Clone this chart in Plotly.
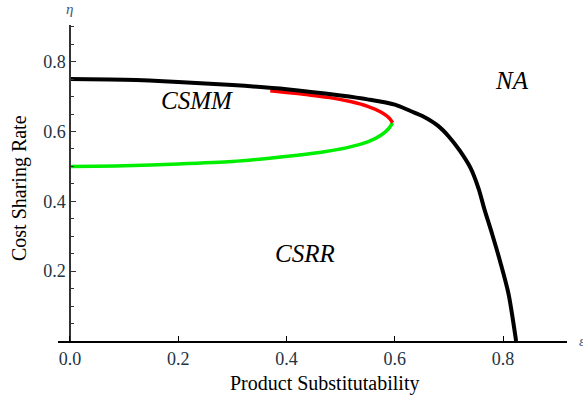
import plotly.graph_objects as go

# Boundary curves (epsilon = product substitutability, eta = cost sharing rate)
black_eps = [0.0, 0.1, 0.2, 0.3, 0.4, 0.5, 0.55, 0.6, 0.63, 0.65, 0.68, 0.7, 0.72, 0.74, 0.755, 0.765, 0.78, 0.795, 0.81, 0.824]
black_eta = [0.75, 0.748, 0.742, 0.733, 0.721, 0.703, 0.692, 0.677, 0.658, 0.645, 0.616, 0.585, 0.545, 0.495, 0.435, 0.38, 0.305, 0.225, 0.135, 0.0]

green_eps = [0.0, 0.1, 0.2, 0.3, 0.36, 0.42, 0.47, 0.51, 0.55, 0.575, 0.588, 0.596]
green_eta = [0.5, 0.502, 0.507, 0.514, 0.522, 0.532, 0.542, 0.553, 0.570, 0.59, 0.607, 0.625]

red_eps = [0.596, 0.59, 0.575, 0.55, 0.52, 0.48, 0.44, 0.40, 0.37]
red_eta = [0.625, 0.638, 0.655, 0.672, 0.685, 0.697, 0.705, 0.712, 0.717]

x_ticks = [0.0, 0.2, 0.4, 0.6, 0.8]
x_ticktext = ["0.0", "0.2", "0.4", "0.6", "0.8"]
y_ticks = [0.2, 0.4, 0.6, 0.8]
y_ticktext = ["0.2", "0.4", "0.6", "0.8"]

region_labels = ["CSMM", "CSRR", "NA"]
region_eps = [0.235, 0.434, 0.816]
region_eta = [0.69, 0.251, 0.747]

FONT = "Liberation Serif, Times New Roman, serif"

fig = go.Figure()
fig.add_trace(go.Scatter(x=green_eps, y=green_eta, mode="lines",
                         line=dict(color="#00ee00", width=3.5, shape="spline", smoothing=0.8),
                         hoverinfo="skip"))
fig.add_trace(go.Scatter(x=red_eps, y=red_eta, mode="lines",
                         line=dict(color="#ff0000", width=3.5, shape="spline", smoothing=0.8),
                         hoverinfo="skip"))
fig.add_trace(go.Scatter(x=black_eps, y=black_eta, mode="lines",
                         line=dict(color="black", width=4, shape="spline", smoothing=0.8),
                         hoverinfo="skip"))

annotations = []
for t, xe, ye in zip(region_labels, region_eps, region_eta):
    annotations.append(dict(x=xe, y=ye, xref="x", yref="y", text="<i>%s</i>" % t,
                            xanchor="center", yanchor="middle",
                            showarrow=False, font=dict(family=FONT, size=25, color="black")))

W, H = 583, 398
L, R, T, B = 58, 16, 25, 57
pw, ph = W - L - R, H - T - B

def px(x):
    return (x - L) / pw

def py(y):
    return (H - B - y) / ph

annotations += [
    dict(x=px(324), y=py(383), xref="paper", yref="paper", text="Product Substitutability",
         xanchor="center", yanchor="middle",
         showarrow=False, font=dict(family=FONT, size=20, color="black")),
    dict(x=px(19), y=py(188), xref="paper", yref="paper", text="Cost Sharing Rate",
         xanchor="center", yanchor="middle",
         textangle=-90, showarrow=False, font=dict(family=FONT, size=20, color="black")),
    dict(x=px(69), y=py(9), xref="paper", yref="paper", text="<i>η</i>",
         xanchor="center", yanchor="middle",
         showarrow=False, font=dict(family=FONT, size=15, color="#445577")),
    dict(x=px(582), y=py(341), xref="paper", yref="paper", text="<i>ε</i>",
         xanchor="center", yanchor="middle",
         showarrow=False, font=dict(family=FONT, size=15, color="#445577")),
]

fig.update_layout(
    width=W, height=H,
    margin=dict(l=L, r=R, t=T, b=B),
    paper_bgcolor="white", plot_bgcolor="white",
    showlegend=False,
    font=dict(family=FONT),
    annotations=annotations,
    xaxis=dict(range=[-0.022, 0.918], showgrid=False, zeroline=False,
               showline=True, linecolor="black", linewidth=2,
               ticks="inside", ticklen=5, tickcolor="black", tickwidth=1,
               tickvals=x_ticks, ticktext=x_ticktext,
               tickfont=dict(family=FONT, size=18, color="#223344")),
    yaxis=dict(range=[0, 0.905], showgrid=False, zeroline=False,
               anchor="free", position=px(70),
               showline=True, linecolor="#333333", linewidth=1.5,
               ticks="inside", ticklen=5, tickcolor="#333333", tickwidth=1,
               tickvals=y_ticks, ticktext=y_ticktext,
               minor=dict(tickvals=[0.05, 0.1, 0.15, 0.25, 0.3, 0.35, 0.45, 0.5, 0.55,
                                    0.65, 0.7, 0.75, 0.85, 0.9],
                          ticks="inside", ticklen=3, tickcolor="#333333"),
               tickfont=dict(family=FONT, size=18, color="#223344")),
)

fig.write_html("out.html")
